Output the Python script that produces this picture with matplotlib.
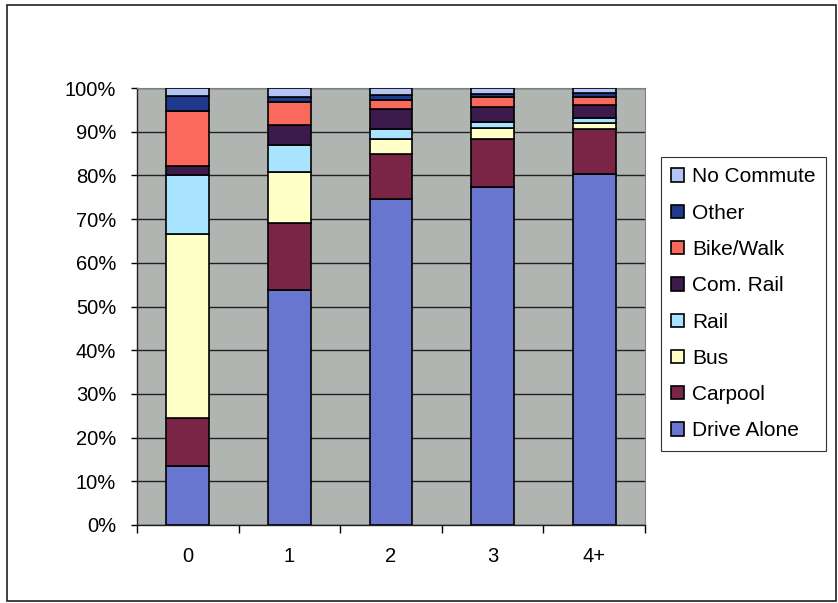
import numpy as np
import matplotlib
matplotlib.use("Agg")
import matplotlib.pyplot as plt
from matplotlib.patches import Rectangle

plt.rcParams['font.family'] = ['Liberation Sans', 'DejaVu Sans']

# vehicles per household
categories = ['0', '1', '2', '3', '4+']

# mode shares in percent, bottom to top of each bar
drive_alone = [13.6, 53.8, 74.5, 77.4, 80.3]
carpool = [10.8, 15.4, 10.5, 11.0, 10.3]
bus = [42.3, 11.5, 3.3, 2.5, 1.5]
rail = [13.3, 6.3, 2.3, 1.4, 1.1]
com_rail = [2.1, 4.5, 4.6, 3.4, 3.0]
bike_walk = [12.6, 5.4, 2.1, 2.3, 1.8]
other = [3.4, 1.1, 1.1, 0.6, 0.8]
no_commute = [1.9, 2.0, 1.6, 1.4, 1.2]

series_names = ['Drive Alone', 'Carpool', 'Bus', 'Rail', 'Com. Rail',
                'Bike/Walk', 'Other', 'No Commute']
series_values = [drive_alone, carpool, bus, rail, com_rail,
                 bike_walk, other, no_commute]
colors = ['#6876d0', '#7a2545', '#ffffc8', '#a8e4ff', '#3c1a4c',
          '#fa6a5c', '#1f3a8c', '#b4c4f4']

fig = plt.figure(figsize=(8.38, 6.03), dpi=100)
ax = fig.add_axes([137/838, 1 - 525/603, 508/838, 437/603])
ax.set_facecolor('#b0b5b2')

x = np.arange(len(categories))
bottom = np.zeros(len(categories))
handles = []
for name, vals, c in zip(series_names, series_values, colors):
    vals = np.array(vals)
    b = ax.bar(x, vals, 0.42, bottom=bottom, color=c, edgecolor='black',
               linewidth=1.2, label=name, zorder=3)
    handles.append(b)
    bottom += vals

ax.set_xlim(-0.5, len(categories) - 0.5)
ax.set_ylim(0, 100)
ax.set_yticks(np.arange(0, 101, 10))
ax.set_yticklabels([f'{v}%' for v in range(0, 101, 10)])
ax.yaxis.grid(True, color='#202020', linewidth=1.0, zorder=1)

ax.set_xticks(x)
ax.set_xticklabels(categories)
ax.set_xticks(np.arange(-0.5, len(categories)), minor=True)
ax.tick_params(axis='x', which='major', length=0, pad=16, labelsize=14.5)
ax.tick_params(axis='x', which='minor', length=6, width=1, direction='out')
ax.tick_params(axis='y', length=4, width=1, pad=11, labelsize=14.5)

for side in ['left', 'bottom']:
    ax.spines[side].set_color('#202020')
    ax.spines[side].set_linewidth(1.0)
for side in ['top', 'right']:
    ax.spines[side].set_color('#808080')
    ax.spines[side].set_linewidth(0.8)

leg = fig.legend(handles[::-1], series_names[::-1], loc='upper left',
                 bbox_to_anchor=(661/838, 1 - 157/603), borderaxespad=0,
                 fontsize=15, frameon=True, fancybox=False, edgecolor='black',
                 handlelength=0.6, handleheight=0.6, handletextpad=0.4,
                 labelspacing=0.83, borderpad=0.5)
leg.get_frame().set_linewidth(0.8)

fig.patches.append(Rectangle((7/838, 2/603), 829/838, 596/603,
                             transform=fig.transFigure, fill=False,
                             edgecolor='#202020', linewidth=1.2))

fig.savefig('out.png', dpi=100)
